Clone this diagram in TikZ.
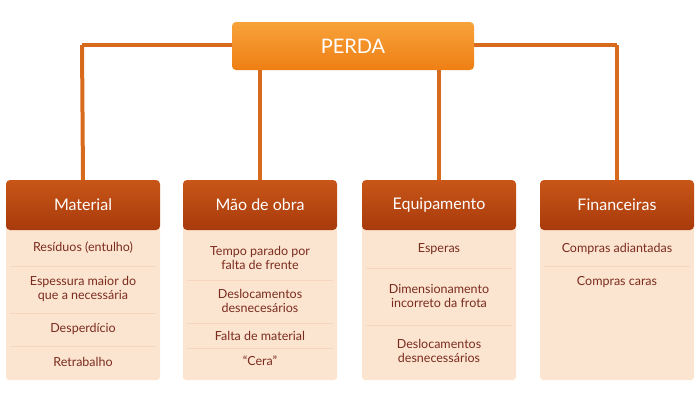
\documentclass[tikz,border=0pt]{standalone}
\usepackage{fontspec}
\setmainfont{Lato}
\begin{document}
\begin{tikzpicture}[x=1pt,y=-1pt,
  conn/.style={draw=linec,line width=4pt},
  head/.style={rounded corners=4pt,top color=headA,bottom color=headB,draw=none,text=white,font=\fontsize{16}{18}\selectfont},
  bodybox/.style={fill=bodyc,draw=none,rounded corners=3pt},
  item/.style={text=txtc,font=\fontsize{12.5}{14.5}\selectfont,align=center},
  sep/.style={draw=sepc,line width=0.6pt}]
\definecolor{linec}{HTML}{D86A1C}
\definecolor{headA}{HTML}{C85618}
\definecolor{headB}{HTML}{A83A0C}
\definecolor{bodyc}{HTML}{FCE5D0}
\definecolor{txtc}{HTML}{7A2B1E}
\definecolor{sepc}{HTML}{F6D6BC}
\definecolor{topA}{HTML}{F7A23A}
\definecolor{topB}{HTML}{EE7F14}
\useasboundingbox (0,0) rectangle (700,400);
% body boxes
\foreach \x in {6,183,362,540}{\fill[bodybox] (\x,222) rectangle ++(154,158);}
% connectors
\coordinate (h1) at (82,45); \coordinate (h4) at (617,45);
\draw[conn] (h1) -- (h4);
\node[rounded corners=4pt,top color=topA,bottom color=topB,minimum width=242pt,minimum height=48pt,text=white,font=\fontsize{20}{22}\selectfont] (perda) at (353,46) {PERDA};
\node[head,minimum width=154pt,minimum height=50pt] (mat) at (83,205) {Material};
\node[head,minimum width=154pt,minimum height=50pt] (mao) at (260,205) {Mão de obra};
\node[head,minimum width=154pt,minimum height=50pt] (equ) at (439,205) {Equipamento};
\node[head,minimum width=154pt,minimum height=50pt] (fin) at (617,205) {Financeiras};
\draw[conn] (h1) -- (mat.north);
\draw[conn] (h4) -- (fin.north);
\draw[conn] (perda.south -| mao.north) -- (mao.north);
\draw[conn] (perda.south -| equ.north) -- (equ.north);
% separators
\foreach \y in {266,313,346}{\draw[sep] (10,\y) -- (156,\y);}
\foreach \y in {280,323,348}{\draw[sep] (187,\y) -- (333,\y);}
\foreach \y in {268,325}{\draw[sep] (366,\y) -- (512,\y);}
\foreach \y in {266}{\draw[sep] (544,\y) -- (690,\y);}
% items
\node[item] (m1) at (83,248) {Resíduos (entulho)};
\node[item] (m2) at (83,289) {Espessura maior do\\que a necessária};
\node[item] (m3) at (83,329) {Desperdício};
\node[item] (m4) at (83,362) {Retrabalho};
\node[item] (o1) at (260,258) {Tempo parado por\\falta de frente};
\node[item] (o2) at (260,301) {Deslocamentos\\desnecesários};
\node[item] (o3) at (260,336) {Falta de material};
\node[item] (o4) at (260,361) {“Cera”};
\node[item] (e1) at (439,249) {Esperas};
\node[item] (e2) at (439,296) {Dimensionamento\\incorreto da frota};
\node[item] (e3) at (439,351) {Deslocamentos\\desnecessários};
\node[item] (f1) at (617,249) {Compras adiantadas};
\node[item] (f2) at (617,282) {Compras caras};
\end{tikzpicture}
\end{document}
